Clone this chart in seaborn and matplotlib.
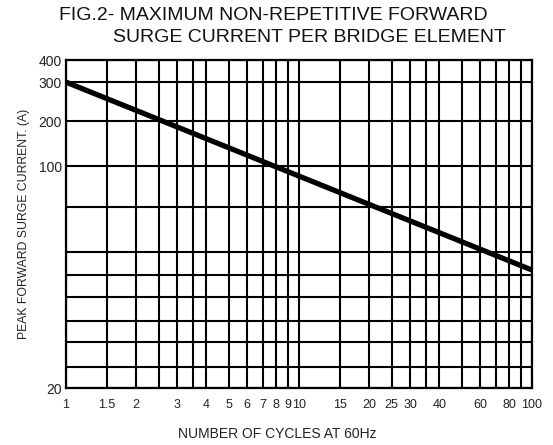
import numpy as np
import pandas as pd
import seaborn as sns
import matplotlib.pyplot as plt
from matplotlib.scale import FuncScale

# curve (straight line on the sheet)
cycles = [1, 100]
current = [300, 72]

# grid lines / tick labels
x_grid = [1, 1.5, 2, 2.5, 3, 3.5, 4, 5, 6, 7, 8, 9, 10,
          15, 20, 25, 30, 35, 40, 50, 60, 70, 80, 90, 100]
x_labels = ["1", "1.5", "2", "", "3", "", "4", "5", "6", "7", "8", "9", "10",
            "15", "20", "25", "30", "", "40", "", "60", "", "80", "", "100"]
y_grid = [20, 30, 40, 50, 60, 70, 80, 90, 100, 200, 300, 400]
y_labels = ["20", "", "", "", "", "", "", "", "100", "200", "300", "400"]

# the printed y paper is not a clean log scale, so map each grid value
# to where it sits on the original sheet (fraction of axis height)
y_frac = [0.0, 0.064, 0.140, 0.204, 0.277, 0.345, 0.415, 0.552,
          0.677, 0.814, 0.933, 1.0]


def fwd(v):
    v = np.clip(np.asarray(v, dtype=float), 1e-9, None)
    return np.interp(np.log10(v), np.log10(y_grid), y_frac)


def inv(p):
    return 10 ** np.interp(p, y_frac, np.log10(y_grid))


df = pd.DataFrame({"cycles": cycles, "current": current})

sns.set_style("white")
plt.rcParams['font.family'] = ['Liberation Sans', 'DejaVu Sans']

fig = plt.figure(figsize=(5.53, 4.45), dpi=100)
ax = fig.add_axes([0.119, 0.128, 0.843, 0.737])

ax.set_xscale("log")
ax.set_yscale(FuncScale(ax.yaxis, (fwd, inv)))
ax.set_xlim(1, 100)
ax.set_ylim(20, 400)

sns.lineplot(data=df, x="cycles", y="current", ax=ax, color="black",
             linewidth=3.8, zorder=5, solid_capstyle="butt")

ax.set_xticks(x_grid, labels=x_labels)
ax.set_yticks(y_grid, labels=y_labels)
ax.minorticks_off()
ax.grid(True, color="black", linewidth=1.5)
ax.tick_params(axis="x", length=0, pad=8, labelsize=9, colors="#222222")
ax.tick_params(axis="y", length=0, pad=3, labelsize=10, colors="#222222")
for s in ax.spines.values():
    s.set_color("black")
    s.set_linewidth(1.6)

ax.set_xlabel("NUMBER OF CYCLES AT 60Hz", fontsize=10, color="#222222")
ax.xaxis.set_label_coords(0.453, -0.119)
ax.set_ylabel("PEAK FORWARD SURGE CURRENT. (A)", fontsize=8.8, labelpad=6, color="#222222")

fig.text(0.106, 0.965, "FIG.2- MAXIMUM NON-REPETITIVE FORWARD", fontsize=14,
         va="center", ha="left", color="#111111")
fig.text(0.204, 0.915, "SURGE CURRENT PER BRIDGE ELEMENT", fontsize=14,
         va="center", ha="left", color="#111111")

fig.savefig("out.png", dpi=100)
